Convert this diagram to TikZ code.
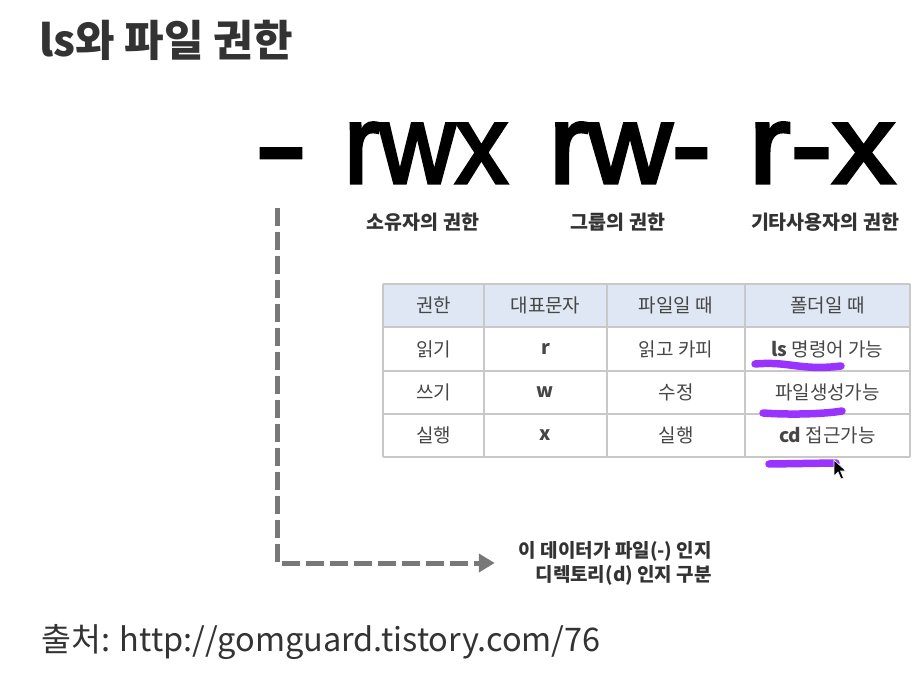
\documentclass[tikz,border=0pt]{standalone}
\usepackage{fontspec}
\setmainfont{Noto Sans CJK KR}
\newfontfamily\permfont[FakeBold=3]{Liberation Sans}
\usetikzlibrary{arrows.meta}
\definecolor{titlegray}{RGB}{51,51,51}
\definecolor{cellgray}{RGB}{70,70,70}
\definecolor{rulegray}{RGB}{200,200,200}
\definecolor{headfill}{RGB}{222,231,243}
\definecolor{arrowgray}{RGB}{120,120,120}
\definecolor{penpurple}{RGB}{153,51,255}
\newcommand{\fs}[2][]{\fontsize{#2}{#2}\selectfont}

\begin{document}
\begin{tikzpicture}[x=1pt, y=-1pt, >=Latex,
  perm/.style={font=\permfont\fs{112}, anchor=base, inner sep=0pt, transform shape},
  lbl/.style={font=\bfseries\fs{19.5}, text=titlegray, inner sep=0pt},
  cell/.style={font=\fs{19}, text=cellgray, inner sep=0pt},
  grid/.style={draw=rulegray, line width=1.2pt},
  pen/.style={draw=penpurple, line width=7.5pt, line cap=round}]
\useasboundingbox (0,0) rectangle (922,674);
\node[font=\bfseries\fs{43}, text=titlegray, anchor=west, inner sep=0pt] (title) at (39,40) {ls와 파일 권한};

\node[perm, xscale=1.39] (permType) at (281,183) {-};
\node[perm, xscale=0.94] (permOwner) at (426,183) {rwx};
\node[perm, xscale=1.04] (permGroup) at (630,183) {rw-};
\node[perm, xscale=1.12] (permOther) at (822,183) {r-x};

\node[lbl] (ownerLbl) at (423,222) {소유자의 권한};
\node[lbl] (groupLbl) at (618,222) {그룹의 권한};
\node[lbl] (otherLbl) at (825,222) {기타사용자의 권한};

\fill[headfill] (383,284) rectangle (910,327);
\foreach \y in {284,327,371,414,457} \draw[grid] (383,\y) -- (910,\y);
\foreach \x in {383,484,607,745,910} \draw[grid] (\x,284) -- (\x,457);
\foreach \row [count=\r from 0] in {{권한,대표문자,파일일 때,폴더일 때},
    {읽기,\bfseries r,읽고 카피,{\bfseries ls} 명령어 가능},{쓰기,\bfseries w,수정,파일생성가능},
    {실행,\bfseries x,실행,{\bfseries cd} 접근가능}}
  \foreach \txt [count=\c] in \row {
    \pgfmathsetmacro\colx{{433.5,545.5,676,827.5}[\c-1]}
    \pgfmathsetmacro\rowy{{305.5,349,392.5,435.5}[\r]}
    \node[cell] (cell-\r-\c) at (\colx,\rowy) {\txt};
  }

\draw[pen] (755,364) .. controls (790,361) and (800,371) .. (841,366);
\draw[pen] (763,413) .. controls (790,415) and (825,414) .. (842,411);
\draw[pen] (769,464) -- (836,463);
\filldraw[fill=black, draw=white, line width=0.6pt] (834,460) -- ++(0,16) -- ++(4,-4)
  -- ++(3,7) -- ++(2.5,-1) -- ++(-3,-7) -- ++(5.5,0) -- cycle;

\coordinate (dashTop) at (277,208);
\node[font=\bfseries\fontsize{19}{24}\selectfont, text=titlegray, align=right,
  anchor=east, inner sep=0pt] (note) at (712,563) {이 데이터가 파일(-) 인지\\디렉토리(d) 인지 구분};
\draw[arrowgray, line width=5pt, dash pattern=on 18pt off 6pt,
  -{Triangle[length=16pt,width=18pt]}, shorten >=24pt] (dashTop) |- (note.west);

\node[font=\fs{32.5}, text=titlegray, anchor=west, inner sep=0pt] (source) at (41,642)
  {출처: http://gomguard.tistory.com/76};
\end{tikzpicture}
\end{document}
